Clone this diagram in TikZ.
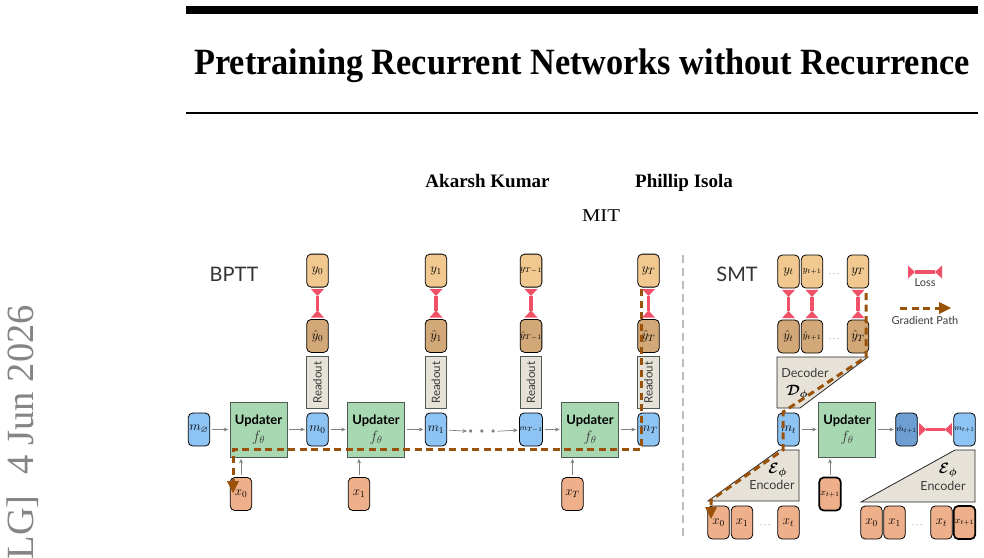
\RequirePackage{fix-cm}
\documentclass[tikz,border=0pt]{standalone}
\usepackage{amsmath}
\usepackage{amssymb}
\usepackage{bm}
\usepackage{fontspec}
\setmainfont{Liberation Serif}
\newfontfamily\figsans{Lato}
\usepackage{xcolor}
\usepackage{tikz}
\usetikzlibrary{arrows.meta,positioning}
\definecolor{TokY}{HTML}{F0C890}
\definecolor{TokYHat}{HTML}{D2A878}
\definecolor{TokX}{HTML}{EEB08A}
\definecolor{TokM}{HTML}{8EC4F4}
\definecolor{TokMHat}{HTML}{6E9ED2}
\definecolor{UpdGreen}{HTML}{A8D8B2}
\definecolor{UpdEdge}{HTML}{4F5A52}
\definecolor{CoderFill}{HTML}{E6E2D8}
\definecolor{LossRed}{HTML}{F05068}
\definecolor{GradBrown}{HTML}{9A520A}
\definecolor{FlowGray}{HTML}{808080}
\definecolor{TxtGray}{HTML}{3A3A3A}
\definecolor{StampGray}{HTML}{858585}
\definecolor{SplitGray}{HTML}{BDBDBD}
\newcommand{\tokfont}{\fontsize{13}{13}\selectfont}
\newcommand{\tinytokfont}{\fontsize{9.5}{9.5}\selectfont}
\newcommand{\tiniertokfont}{\fontsize{8}{8}\selectfont}
\tikzset{
  tok/.style={
    draw=black,
    line width=0.8pt,
    rounded corners=4.5pt,
    minimum width=21.5pt,
    minimum height=33pt,
    inner sep=0pt,
    font=\tokfont
  },
  ytok/.style={tok, fill=TokY},
  yhtok/.style={tok, fill=TokYHat},
  xtok/.style={tok, fill=TokX},
  mtok/.style={tok, fill=TokM},
  mhtok/.style={tok, fill=TokMHat},
  newtok/.style={line width=1.7pt},
  tinylab/.style={font=\tinytokfont},
  tinierlab/.style={font=\tiniertokfont},
  updbox/.style={
    draw=UpdEdge,
    fill=UpdGreen,
    line width=0.8pt,
    minimum width=57pt,
    minimum height=55pt,
    align=center,
    inner sep=0pt,
    font=\figsans\fontsize{13}{17}\selectfont
  },
  readbox/.style={
    draw=UpdEdge,
    fill=CoderFill,
    line width=0.8pt,
    minimum width=21.5pt,
    minimum height=52pt,
    inner sep=0pt,
    label={[rotate=90, font=\figsans\fontsize{11.5}{12}\selectfont, text=TxtGray]center:Readout}
  },
  coder/.style={draw=black!85, fill=CoderFill, line width=0.8pt},
  codertxt/.style={font=\figsans\fontsize{12.5}{13}\selectfont, text=TxtGray, inner sep=0pt},
  coderlab/.style={font=\fontsize{15}{15}\selectfont, inner sep=0pt},
  flow/.style={-{Stealth[length=4.5pt,width=4pt]}, draw=FlowGray, line width=0.7pt, shorten <=2pt, shorten >=1.5pt},
  lossbar/.style={
    draw=LossRed, line width=3.4pt,
    {Triangle[reversed,width=13pt,length=7pt,line width=0pt]}-{Triangle[reversed,width=13pt,length=7pt,line width=0pt]}
  },
  gradpath/.style={
    draw=GradBrown, line width=3pt, dash pattern=on 7pt off 4.5pt,
    -{Triangle[width=12pt,length=12pt,line width=0pt]}
  },
  heading/.style={font=\figsans\fontsize{20}{20}\selectfont, text=black!80},
  legendtxt/.style={font=\figsans\fontsize{11}{11}\selectfont, text=TxtGray}
}
\newcommand{\updtext}{\textbf{Updater}\\[0pt]\textcolor{TxtGray}{\fontsize{15}{15}\selectfont$f_\theta$}}

\begin{document}
\begin{tikzpicture}[x=1pt, y=1pt]
  \useasboundingbox (0,0) rectangle (984,-557);

  % page head
  \fill (186,-6) rectangle (978,-14);
  \node[anchor=base, inner sep=0pt] (title) at (582,-74)
    {\scalebox{1}[1.08]{\fontsize{34.3}{36}\selectfont\bfseries Pretraining Recurrent Networks without Recurrence}};
  \fill (186,-112) rectangle (978,-114.2);
  \node[anchor=base, inner sep=0pt, font=\fontsize{19}{20}\selectfont\bfseries] (auth1) at (487.5,-187) {Akarsh Kumar};
  \node[anchor=base, inner sep=0pt, font=\fontsize{19}{20}\selectfont\bfseries] (auth2) at (684,-187) {Phillip Isola};
  \node[anchor=base, inner sep=0pt] (inst) at (601,-221) {\scalebox{1.15}[1]{\fontsize{18}{19}\selectfont MIT}};
  \node[rotate=90, anchor=base east, inner sep=0pt, text=StampGray, font=\fontsize{38.5}{40}\selectfont] (stamp) at (33,-305)
    {LG]\hspace{0.55em}4 Jun 2026};

  % BPTT
  \node[heading] (bptt) at (234,-274.5) {BPTT};
  \node[mtok] (mnull) at (199,-429.5) {$m_\varnothing$};
  \node[updbox] (up0) at (258.5,-429.5) {\updtext};
  \node[xtok] (x0) at (241,-494) {$x_0$};
  \node[mtok] (m0) at (317.5,-429.5) {$m_0$};
  \node[readbox, above=3.5pt of m0] (rd0) {};
  \node[yhtok, above=3.5pt of rd0] (yh0) {$\hat{y}_0$};
  \node[ytok, above=31.5pt of yh0] (y0) {$y_0$};

  \node[updbox] (up1) at (376,-429.5) {\updtext};
  \node[xtok] (x1) at (359,-494) {$x_1$};
  \node[mtok] (m1) at (436,-429.5) {$m_1$};
  \node[readbox, above=3.5pt of m1] (rd1) {};
  \node[yhtok, above=3.5pt of rd1] (yh1) {$\hat{y}_1$};
  \node[ytok, above=31.5pt of yh1] (y1) {$y_1$};

  \node[inner sep=0pt, text=FlowGray, font=\fontsize{8}{8}\selectfont] (mdots) at (482,-432)
    {${\bullet}\hspace{7pt}{\bullet}\hspace{7pt}{\bullet}$};

  \node[mtok, tinierlab] (mT1) at (531,-429.5) {$m_{T-1}$};
  \node[readbox, above=3.5pt of mT1] (rdT1) {};
  \node[yhtok, tinylab, above=3.5pt of rdT1] (yhT1) {$\hat{y}_{T-1}$};
  \node[ytok, tinylab, above=31.5pt of yhT1] (yT1) {$y_{T-1}$};

  \node[updbox] (upT) at (590,-429.5) {\updtext};
  \node[xtok] (xT) at (572.5,-494) {$x_T$};
  \node[mtok] (mT) at (648.5,-429.5) {$m_T$};
  \node[readbox, above=3.5pt of mT] (rdT) {};
  \node[yhtok, above=3.5pt of rdT] (yhT) {$\hat{y}_T$};
  \node[ytok, above=31.5pt of yhT] (yT) {$y_T$};

  \draw[flow] (mnull) -- (up0);
  \draw[flow] (up0) -- (m0);
  \draw[flow] (m0) -- (up1);
  \draw[flow] (up1) -- (m1);
  \draw[flow] (m1) -- (mdots);
  \draw[flow] (mdots) -- (mT1);
  \draw[flow] (mT1) -- (upT);
  \draw[flow] (upT) -- (mT);
  \draw[flow] (x0.north) -- (x0.north |- up0.south);
  \draw[flow] (x1.north) -- (x1.north |- up1.south);
  \draw[flow] (xT.north) -- (xT.north |- upT.south);

  \draw[lossbar, shorten <=1.5pt, shorten >=1.5pt] (y0) -- (yh0);
  \draw[lossbar, shorten <=1.5pt, shorten >=1.5pt] (y1) -- (yh1);
  \draw[lossbar, shorten <=1.5pt, shorten >=1.5pt] (yT1) -- (yhT1);
  \draw[lossbar, shorten <=1.5pt, shorten >=1.5pt] (yT) -- (yhT);

  \coordinate (gbStart) at (641,-289);
  \coordinate (gbTurn) at (233,-449);
  \coordinate (gbEnd) at (233,-493);
  \draw[gradpath] (gbStart) |- (gbTurn) -- (gbEnd);

  % split
  \draw[SplitGray, line width=2.2pt, dash pattern=on 8pt off 5pt] (683,-255) -- (683,-537);

  % SMT
  \node[heading] (smt) at (737,-274.5) {SMT};
  \node[ytok] (yt) at (788.5,-271.5) {$y_t$};
  \node[ytok, tinylab] (yt1) at (812,-271.5) {$y_{t+1}$};
  \node[inner sep=0pt, text=TxtGray, font=\fontsize{9}{9}\selectfont] (ydots) at (835,-274) {$\cdots$};
  \node[ytok] (yTs) at (858,-271.5) {$y_T$};
  \node[yhtok] (yht) at (788.5,-336.5) {$\hat{y}_t$};
  \node[yhtok, tinylab] (yht1) at (812,-336.5) {$\hat{y}_{t+1}$};
  \node[inner sep=0pt, text=TxtGray, font=\fontsize{9}{9}\selectfont] (yhdots) at (835,-339) {$\cdots$};
  \node[yhtok] (yhTs) at (858,-336.5) {$\hat{y}_T$};

  \draw[lossbar, shorten <=1.5pt, shorten >=1.5pt] (yt) -- (yht);
  \draw[lossbar, shorten <=1.5pt, shorten >=1.5pt] (yt1) -- (yht1);
  \draw[lossbar, shorten <=1.5pt, shorten >=1.5pt] (yTs) -- (yhTs);

  \draw[coder] (777,-357) -- (868,-357) -- (800,-408) -- (777,-408) -- cycle;
  \node[codertxt] (dectxt) at (805,-373) {Decoder};
  \node[coderlab] (declab) at (797,-392) {$\bm{\mathcal{D}_{\phi}}$};

  \node[mtok] (mt) at (788.5,-429.5) {$m_t$};
  \node[updbox] (ups) at (847,-429.5) {\updtext};
  \node[mhtok, tinierlab] (mht1) at (906.5,-429.5) {$\hat{m}_{t+1}$};
  \node[mtok, tinierlab] (mt1) at (964.5,-429.5) {$m_{t+1}$};
  \node[xtok, newtok, tinylab] (xs1) at (830,-494) {$x_{t+1}$};

  \draw[flow] (mt) -- (ups);
  \draw[flow] (ups) -- (mht1);
  \draw[flow] (xs1.north) -- (xs1.north |- ups.south);
  \draw[lossbar, shorten <=1.5pt, shorten >=1.5pt] (mht1) -- (mt1);

  % encoders
  \draw[coder] (708,-501) -- (799,-501) -- (799,-450) -- (779,-450) -- cycle;
  \node[coderlab] (enclabA) at (777.5,-470) {$\bm{\mathcal{E}_{\phi}}$};
  \node[codertxt] (enctxtA) at (772,-485) {Encoder};
  \draw[coder] (861,-502) -- (975,-502) -- (975,-450) -- (955,-450) -- cycle;
  \node[coderlab] (enclabB) at (948,-470) {$\bm{\mathcal{E}_{\phi}}$};
  \node[codertxt] (enctxtB) at (943,-485.5) {Encoder};

  \node[xtok] (xa0) at (718.5,-522.5) {$x_0$};
  \node[xtok] (xa1) at (742,-522.5) {$x_1$};
  \node[inner sep=0pt, text=TxtGray, font=\fontsize{9}{9}\selectfont] (xadots) at (766,-525) {$\cdots$};
  \node[xtok] (xat) at (788.5,-522.5) {$x_t$};
  \node[xtok] (xb0) at (871.5,-522.5) {$x_0$};
  \node[xtok] (xb1) at (894.5,-522.5) {$x_1$};
  \node[inner sep=0pt, text=TxtGray, font=\fontsize{9}{9}\selectfont] (xbdots) at (918,-525) {$\cdots$};
  \node[xtok] (xbt) at (941.5,-522.5) {$x_t$};
  \node[xtok, newtok, tinylab] (xbt1) at (964.5,-522.5) {$x_{t+1}$};

  \coordinate (gsStart) at (866,-293);
  \coordinate (gsEnd) at (711,-519);
  \draw[gradpath] (gsStart) -- (866,-357) -- (783,-412) -- (783,-450) -- (711,-500) -- (gsEnd);

  % legend
  \coordinate (lossA) at (908,-272);
  \coordinate (lossB) at (942,-272);
  \draw[lossbar] (lossA) -- (lossB);
  \node[legendtxt] (losstxt) at (925,-283) {Loss};
  \coordinate (gradA) at (900,-308);
  \coordinate (gradB) at (951,-308);
  \draw[gradpath] (gradA) -- (gradB);
  \node[legendtxt] (gradtxt) at (925,-320) {Gradient Path};
\end{tikzpicture}
\end{document}
